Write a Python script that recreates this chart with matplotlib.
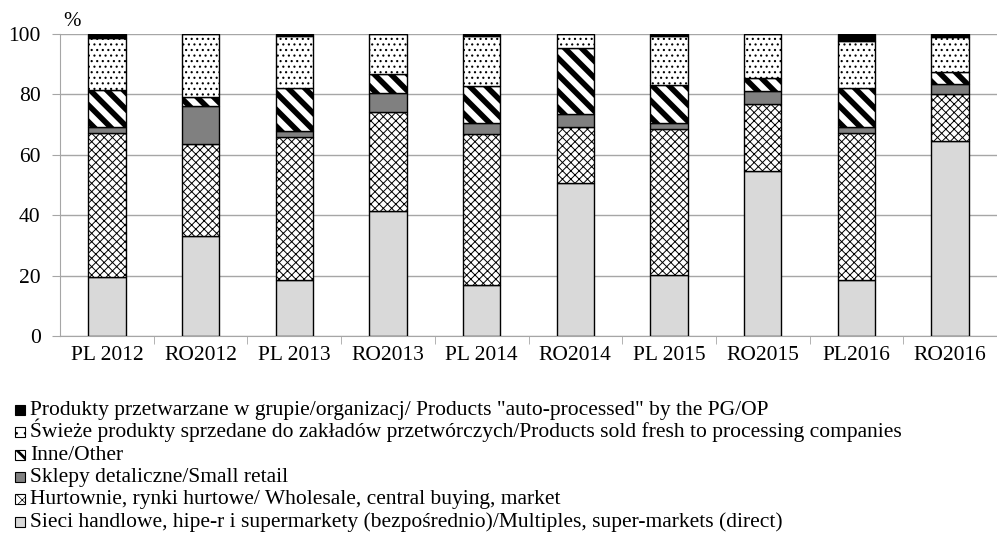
import matplotlib
matplotlib.use("Agg")
import matplotlib.pyplot as plt
from matplotlib.patches import Rectangle
import numpy as np

plt.rcParams['font.family'] = ['Liberation Serif', 'DejaVu Serif']

categories = ["PL 2012", "RO2012", "PL 2013", "RO2013", "PL 2014",
              "RO2014", "PL 2015", "RO2015", "PL2016", "RO2016"]

sieci = [19.5, 33.2, 18.7, 41.4, 16.9, 50.7, 20.3, 54.6, 18.4, 64.4]
hurtownie = [47.6, 30.3, 47.2, 32.8, 49.9, 18.5, 48.2, 22.1, 48.9, 15.6]
sklepy = [2.1, 12.6, 1.8, 6.2, 3.5, 4.1, 2.1, 4.3, 1.7, 3.3]
inne = [12.1, 3.0, 14.4, 6.4, 12.5, 21.9, 12.3, 4.3, 13.1, 3.9]
swieze = [17.4, 20.9, 17.1, 13.2, 16.4, 4.8, 16.3, 14.7, 15.4, 11.7]
auto = [1.3, 0.0, 0.8, 0.0, 0.8, 0.0, 0.8, 0.0, 2.5, 1.1]

labels = [
    "Sieci handlowe, hipe-r i supermarkety (bezpośrednio)/Multiples, super-markets (direct)",
    "Hurtownie, rynki hurtowe/ Wholesale, central buying, market",
    "Sklepy detaliczne/Small retail",
    "Inne/Other",
    "Świeże produkty sprzedane do zakładów przetwórczych/Products sold fresh to processing companies",
    "Produkty przetwarzane w grupie/organizacj/ Products \"auto-processed\" by the PG/OP",
]

series = [sieci, hurtownie, sklepy, inne, swieze, auto]
faces = ["#d9d9d9", "white", "#808080", "white", "white", "black"]
hatches = [None, "xxxx", None, "\\\\", "...", None]
hlw = [1.0, 0.7, 1.0, 4.0, 0.8, 1.0]
leg_hatches = [None, "xxx", None, "\\\\", "..", None]
leg_hlw = [1.0, 0.5, 1.0, 2.0, 0.6, 1.0]

W, H = 997, 543
fig = plt.figure(figsize=(W / 100, H / 100), dpi=100)
ax = fig.add_axes([0.0602, 0.381, 0.9398, 0.557])

x = np.arange(len(categories))
bottom = np.zeros(len(categories))
for vals, fc, h, lw in zip(series, faces, hatches, hlw):
    vals = np.array(vals)
    plt.rcParams['hatch.linewidth'] = lw
    bars = ax.bar(x, vals, 0.4, bottom=bottom, color=fc, edgecolor="black",
                  linewidth=1.0, hatch=h, zorder=3)
    for b in bars:
        if hasattr(b, "set_hatch_linewidth"):
            b.set_hatch_linewidth(lw)
    bottom += vals

ax.set_xlim(-0.5, len(categories) - 0.5)
ax.set_ylim(0, 100)
ax.set_yticks([0, 20, 40, 60, 80, 100])
ax.yaxis.grid(True, color="#a6a6a6", linewidth=1.0, zorder=0)
ax.set_axisbelow(True)
for s in ["top", "right"]:
    ax.spines[s].set_visible(False)
ax.spines["left"].set_color("#a6a6a6")
ax.spines["bottom"].set_color("#a6a6a6")
ax.tick_params(axis="y", length=6, color="#a6a6a6", labelsize=15.5, pad=8)
ax.set_xticks(x)
ax.set_xticklabels(categories, fontsize=15.5)
ax.tick_params(axis="x", length=0, pad=7)
ax.set_xticks(np.arange(0.5, len(categories) - 0.5, 1), minor=True)
ax.tick_params(axis="x", which="minor", length=6, color="#a6a6a6")
ax.text(0.003, 1.025, "%", transform=ax.transAxes, fontsize=15)

# legend (manual layout, top entry = last series)
base0, step = 415.0, 22.3
for i, idx in enumerate(range(len(series) - 1, -1, -1)):
    yb = base0 + i * step
    plt.rcParams['hatch.linewidth'] = leg_hlw[idx]
    r = Rectangle((15 / W, 1 - yb / H), 10 / W, 10 / H,
                  transform=fig.transFigure, facecolor=faces[idx],
                  edgecolor="black", linewidth=0.8, hatch=leg_hatches[idx])
    if hasattr(r, "set_hatch_linewidth"):
        r.set_hatch_linewidth(leg_hlw[idx])
    fig.add_artist(r)
    fig.text(30 / W, 1 - yb / H, labels[idx], fontsize=15.5, va="baseline",
             ha="left")

fig.savefig("out.png", dpi=100)
